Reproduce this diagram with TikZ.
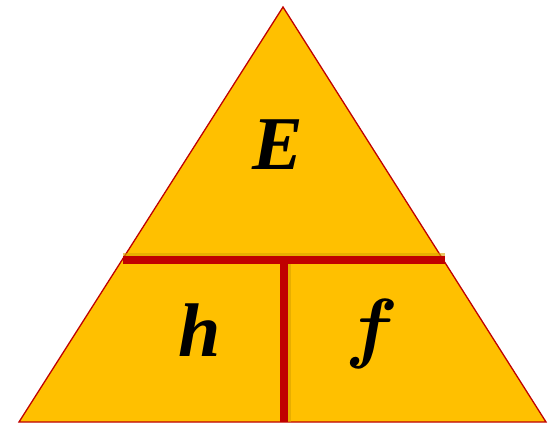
\RequirePackage{fix-cm}
\documentclass[tikz,border=0pt]{standalone}
\usepackage{amsmath,bm}
\usepackage{fontspec}
\setmainfont{Liberation Serif}
\definecolor{triFill}{HTML}{FFC000}
\definecolor{barRed}{HTML}{C00000}
\definecolor{shade}{HTML}{D9A300}
\tikzset{
  tri/.style={fill=triFill, draw=barRed, line width=1.3pt, line join=miter},
  bar/.style={draw=barRed, line width=8.5pt},
  barshadow/.style={draw=shade, line width=8pt, opacity=0.6},
  letter/.style={font=\fontsize{76}{76}\selectfont\bfseries\itshape, inner sep=0pt},
  mletter/.style={font=\fontsize{78}{78}\selectfont, inner sep=0pt},
}
\begin{document}
\begin{tikzpicture}[x=1pt,y=-1pt]
\useasboundingbox (0,0) rectangle (551,425);
\coordinate (apex) at (283,7);
\coordinate (bl) at (19,422);
\coordinate (br) at (546,422);
\draw[tri] (apex) -- (br) -- (bl) -- cycle;
\coordinate (hl) at (123,260);
\coordinate (hr) at (445,260);
\coordinate (vt) at (284,260);
\coordinate (vb) at (284,422);
\draw[barshadow] ([yshift=3]hl) -- ([yshift=3]hr);
\draw[barshadow] ([xshift=3]vt) -- ([xshift=3]vb);
\draw[bar] (hl) -- (hr);
\draw[bar] (vt) -- (vb);
\node[letter] (E) at (278,145) {E};
\node[letter] (h) at (200,330) {h};
\node[mletter] (f) at (372,334) {$\bm{f}$};
\end{tikzpicture}
\end{document}
